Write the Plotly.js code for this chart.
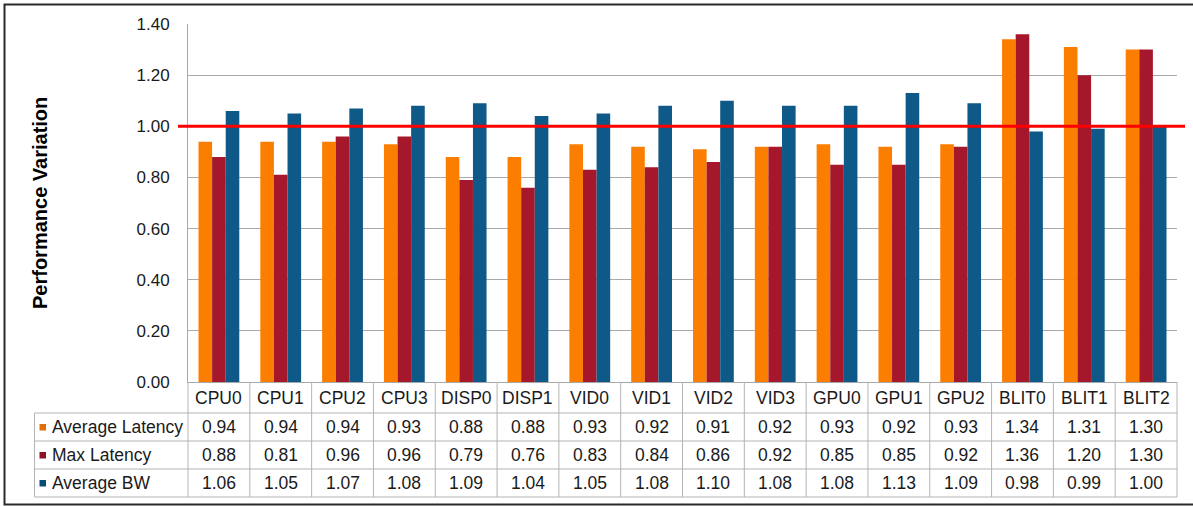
<!DOCTYPE html>
<html>
<head>
<meta charset="utf-8">
<script src="https://cdn.plot.ly/plotly-3.0.1.min.js"></script>
<style>
html,body{margin:0;padding:0;background:#fff;}
#chart{width:1193px;height:506px;}
</style>
</head>
<body>
<div id="chart"></div>
<script>
// ---- data ----
const categories = ["CPU0","CPU1","CPU2","CPU3","DISP0","DISP1","VID0","VID1","VID2","VID3","GPU0","GPU1","GPU2","BLIT0","BLIT1","BLIT2"];
const avgLatency = [0.94,0.94,0.94,0.93,0.88,0.88,0.93,0.92,0.91,0.92,0.93,0.92,0.93,1.34,1.31,1.30];
const maxLatency = [0.88,0.81,0.96,0.96,0.79,0.76,0.83,0.84,0.86,0.92,0.85,0.85,0.92,1.36,1.20,1.30];
const avgBW      = [1.06,1.05,1.07,1.08,1.09,1.04,1.05,1.08,1.10,1.08,1.08,1.13,1.09,0.98,0.99,1.00];
const seriesNames = ["Average Latency","Max Latency","Average BW"];
const seriesValues = [avgLatency, maxLatency, avgBW];
const barColors = ["#FC7E00","#A5172A","#0E5987"];
const keyColors = ["#E26E0A","#8E1224","#0B4C75"];
const referenceLevel = 1.0;
const yTickVals = [0,0.2,0.4,0.6,0.8,1.0,1.2,1.4];

// ---- layout geometry (pixels) ----
const W = 1193, H = 506;
const L = 188, R = 1177, T = 24, B = 382;
const pw = R - L, ph = B - T;
const px2x = p => (p - L) / pw;
const px2y = p => (B - p) / ph;

const font = "Liberation Sans, Arial, sans-serif";
const gridColor = "#A9A9A9";
const tableLine = "#B4B4B4";
const tableSize = 17.5;

const traces = seriesNames.map((n, i) => ({
  type: "bar",
  name: n,
  x: categories,
  y: seriesValues[i],
  marker: {color: barColors[i], line: {width: 0}},
  hoverinfo: "x+y+name"
}));

const shapes = [];
const annotations = [];

// reference line at 1.0
shapes.push({type:"line", xref:"paper", yref:"y", x0:px2x(178), x1:px2x(1185), y0:referenceLevel, y1:referenceLevel,
  line:{color:"#FF0000", width:3}, layer:"above"});

// table geometry
const rowLines = [413, 441, 469, 497];
const rowCenters = [427, 455, 483];
const headerCenter = 398;
const labelLeft = 34.5;

for (let k = 0; k <= categories.length; k++) {
  shapes.push({type:"line", xref:"paper", yref:"paper", x0:k/categories.length, x1:k/categories.length,
    y0:px2y(B), y1:px2y(rowLines[3]), line:{color:tableLine, width:1}});
}
shapes.push({type:"line", xref:"paper", yref:"paper", x0:px2x(labelLeft), x1:px2x(labelLeft),
  y0:px2y(rowLines[0]), y1:px2y(rowLines[3]), line:{color:tableLine, width:1}});
rowLines.forEach(r => {
  shapes.push({type:"line", xref:"paper", yref:"paper", x0:px2x(labelLeft), x1:1,
    y0:px2y(r), y1:px2y(r), line:{color:tableLine, width:1}});
});

categories.forEach(c => {
  annotations.push({xref:"x", yref:"paper", x:c, y:px2y(headerCenter), text:c, showarrow:false,
    xanchor:"center", yanchor:"middle", font:{family:font, size:tableSize, color:"#1a1a1a"}});
});
seriesNames.forEach((n, i) => {
  const yc = px2y(rowCenters[i]);
  shapes.push({type:"rect", xref:"paper", yref:"paper", x0:px2x(39.5), x1:px2x(46),
    y0:px2y(rowCenters[i]+3.5), y1:px2y(rowCenters[i]-3), fillcolor:keyColors[i], line:{width:0}});
  annotations.push({xref:"paper", yref:"paper", x:px2x(50), y:yc, text:n, showarrow:false,
    xanchor:"left", yanchor:"middle", font:{family:font, size:tableSize, color:"#1a1a1a"}});
  seriesValues[i].forEach((v, j) => {
    annotations.push({xref:"x", yref:"paper", x:categories[j], y:yc, text:v.toFixed(2), showarrow:false,
      xanchor:"center", yanchor:"middle", font:{family:font, size:tableSize, color:"#1a1a1a"}});
  });
});

annotations.push({xref:"paper", yref:"paper", x:px2x(40), y:0.5, text:"<b>Performance Variation</b>", textangle:-90,
  showarrow:false, xanchor:"center", yanchor:"middle", font:{family:font, size:20, color:"#000"}});

shapes.push({type:"rect", xref:"paper", yref:"paper", x0:px2x(4.5), x1:px2x(1200), y0:px2y(504.5), y1:px2y(4.5),
  line:{color:"#2a2a2a", width:2}, fillcolor:"rgba(0,0,0,0)"});

const layout = {
  width: W, height: H,
  margin: {l: L, r: W - R, t: T, b: H - B, pad: 0},
  paper_bgcolor: "#fff", plot_bgcolor: "#fff",
  barmode: "group", bargap: 0.34, bargroupgap: 0,
  showlegend: false,
  font: {family: font, size: 17, color: "#1a1a1a"},
  xaxis: {type:"category", categoryarray: categories, range:[-0.5, categories.length - 0.5],
    showticklabels:false, ticks:"", showgrid:false, showline:true, linecolor:gridColor, linewidth:1, fixedrange:true},
  yaxis: {range:[0, 1.4], tickvals: yTickVals, tickformat:".2f", showgrid:true, gridcolor:gridColor, gridwidth:1,
    zeroline:false, showline:true, linecolor:gridColor, linewidth:1, ticks:"", ticklabelstandoff:14,
    tickfont:{family:font, size:17, color:"#1a1a1a"}, fixedrange:true},
  shapes: shapes,
  annotations: annotations
};

Plotly.newPlot("chart", traces, layout, {displayModeBar:false, staticPlot:true});
</script>
</body>
</html>
